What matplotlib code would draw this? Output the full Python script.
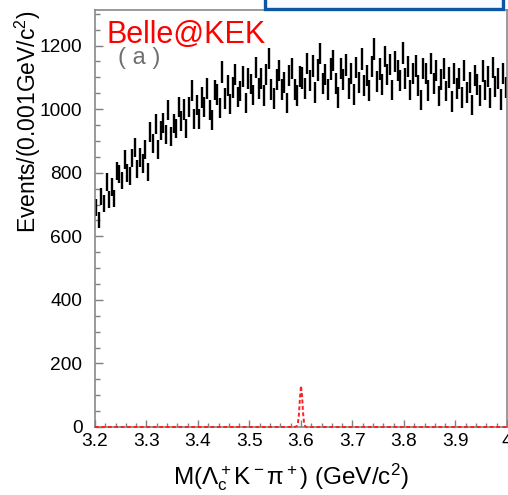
import numpy as np
import matplotlib
matplotlib.use('Agg')
import matplotlib.pyplot as plt
from matplotlib.patches import Rectangle
from matplotlib.ticker import MultipleLocator, FixedLocator, FixedFormatter

plt.rcParams['font.family'] = ['Liberation Sans', 'DejaVu Sans']
plt.rcParams['mathtext.fontset'] = 'custom'
plt.rcParams['mathtext.rm'] = 'Liberation Sans'
plt.rcParams['mathtext.it'] = 'Liberation Sans'
plt.rcParams['mathtext.default'] = 'regular'

bin_lo = 3.2
bin_width = 0.005
counts = [
    691, 652, 724, 704, 770, 715, 755, 720, 804, 797,
    776, 842, 800, 789, 846, 880, 811, 848, 829, 872,
    803, 928, 893, 954, 873, 932, 957, 920, 996, 914,
    955, 939, 1007, 963, 999, 939, 1006, 1058, 969, 1013,
    968, 1036, 1008, 1064, 997, 967, 1060, 1047, 1004, 1117,
    1034, 1075, 1017, 1067, 1108, 1039, 1057, 1104, 1020, 1097,
    1079, 1044, 1132, 1066, 1096, 1043, 1110, 1159, 1063, 1034,
    1093, 1121, 1061, 1085, 1020, 1106, 1127, 1063, 1043, 1104,
    1098, 1066, 1143, 1091, 1136, 1053, 1123, 1175, 1081, 1109,
    1063, 1126, 1153, 1082, 1036, 1128, 1092, 1139, 1064, 1112,
    1047, 1132, 1085, 1157, 1074, 1107, 1058, 1135, 1188, 1088,
    1126, 1077, 1166, 1108, 1140, 1060, 1150, 1121, 1089, 1176,
    1096, 1134, 1060, 1111, 1136, 1075, 1029, 1128, 1111, 1059,
    1144, 1080, 1121, 1042, 1094, 1127, 1057, 1099, 1024, 1112,
    1066, 1097, 1036, 1121, 1053, 1083, 1012, 1106, 1077, 1043,
    1120, 1060, 1102, 1035, 1131, 1072, 1097, 1031, 1111, 1067,
]

# signal MC shape (red dashed)
sig_mass = [3.200, 3.588, 3.592, 3.594, 3.596, 3.598, 3.600, 3.602, 3.604, 3.606, 3.608, 3.610, 4.000]
sig_counts = [0, 0, 3, 12, 40, 92, 130, 100, 45, 12, 3, 0, 0]

xtick_vals = [3.2, 3.3, 3.4, 3.5, 3.6, 3.7, 3.8, 3.9, 4.0]
xtick_labels = ['3.2', '3.3', '3.4', '3.5', '3.6', '3.7', '3.8', '3.9', '4']

counts = np.array(counts, dtype=float)
centers = bin_lo + bin_width * (np.arange(len(counts)) + 0.5)

fig = plt.figure(figsize=(5.08, 4.95), dpi=100)
ax = fig.add_axes([0.187, 0.1374, 0.811, 0.8424])

ax.errorbar(centers, counts, yerr=np.sqrt(counts), fmt='none', ecolor='black', elinewidth=1.7)
ax.plot(sig_mass, sig_counts, color='#ff2020', ls=(0, (2, 1.3)), lw=1.4, clip_on=False, zorder=5)

ax.set_xlim(3.2, 4.0)
ax.set_ylim(0, 1312)

grey = '#7f7f7f'
for side in ('left', 'bottom', 'top', 'right'):
    ax.spines[side].set_color(grey)
    ax.spines[side].set_linewidth(1.1)

ax.xaxis.set_major_locator(FixedLocator(xtick_vals))
ax.xaxis.set_major_formatter(FixedFormatter(xtick_labels))
ax.xaxis.set_minor_locator(MultipleLocator(0.02))
ax.yaxis.set_major_locator(MultipleLocator(200))
ax.yaxis.set_minor_locator(MultipleLocator(50))
ax.tick_params(axis='both', which='both', direction='in', color=grey, width=1.0, labelsize=13.8)
ax.tick_params(axis='x', which='major', length=5, pad=4)
ax.tick_params(axis='x', which='minor', length=3)
ax.tick_params(axis='y', which='major', length=6, pad=9)
ax.tick_params(axis='y', which='minor', length=3.5)

ax.set_ylabel('Events/(0.001GeV/c$^2$)', fontsize=16.5, loc='top')
ax.yaxis.set_label_coords(-0.127, 1.0)
ax.set_xlabel(r'M($\Lambda_c^+$K$^-$$\pi^+$) (GeV/c$^2$)', fontsize=17.5, va='top')
ax.xaxis.set_label_coords(0.476, -0.082)

ax.text(0.029, 0.921, 'Belle@KEK', color='#ff0000', fontsize=22, transform=ax.transAxes, va='baseline')
ax.text(0.107, 0.885, '( a )', color='#707070', fontsize=17, transform=ax.transAxes,
        ha='center', va='center')

# slide box cut at the top edge
box = Rectangle((0.522, 0.982), 0.468, 0.05, transform=fig.transFigure, facecolor='#f8fbff',
                edgecolor='#0b57a4', linewidth=2.4, clip_on=False, zorder=10)
fig.patches.append(box)

fig.savefig('out.png', dpi=100)
